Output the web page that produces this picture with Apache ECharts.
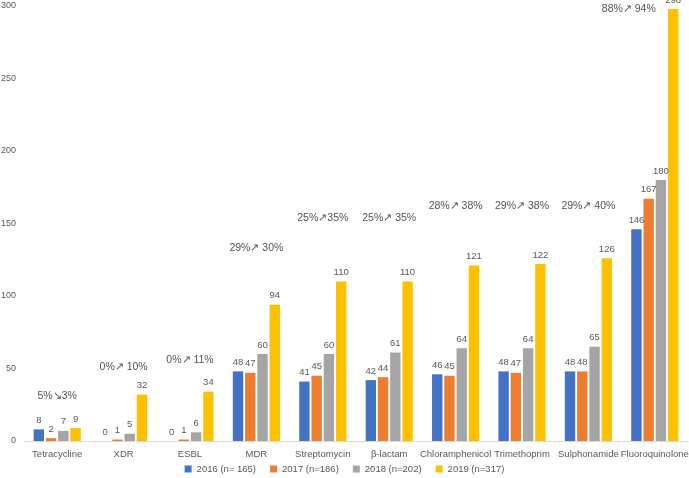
<!DOCTYPE html>
<html>
<head>
<meta charset="utf-8">
<script src="https://cdn.jsdelivr.net/npm/echarts@6/dist/echarts.min.js"></script>
<style>html,body{margin:0;padding:0;background:#fff}#c{width:689px;height:478px}</style>
</head>
<body>
<div id="c"></div>
<script>
var categories = ["Tetracycline","XDR","ESBL","MDR","Streptomycin","\u03b2-lactam","Chloramphenicol","Trimethoprim","Sulphonamide","Fluoroquinolone"];
var seriesNames = ["2016 (n= 165)","2017 (n=186)","2018 (n=202)","2019 (n=317)"];
var v2016 = [8,0,0,48,41,42,46,48,48,146];
var v2017 = [2,1,1,47,45,44,45,47,48,167];
var v2018 = [7,5,6,60,60,61,64,64,65,180];
var v2019 = [9,32,34,94,110,110,121,122,126,298];
var annotationText = ["5%\u21983%","0%\u2197 10%","0%\u2197 11%","29%\u2197 30%","25%\u219735%","25%\u2197 35%","28%\u2197 38%","29%\u2197 38%","29%\u2197 40%","88%\u2197 94%"];
var annotationLevel = [31,51,56,133,154,154,162,162,162,298];
var yTicks = {min:0,max:300,interval:50};

var colors = ["#4472C4","#ED7D31","#A5A5A5","#FFC000"];
var font = "Liberation Sans";
var values = [v2016,v2017,v2018,v2019];
var series = values.map(function(d,i){
  return {
    name: seriesNames[i], type:'bar', data:d,
    barGap:'18%', barCategoryGap:'29%',
    itemStyle:{color:colors[i]},
    label:{show:true,position:'top',distance:4,color:'#595959',fontSize:9.5,fontFamily:font}
  };
});
series.push({
  name:'annot', type:'scatter', symbolSize:0,
  data: annotationLevel.map(function(v,i){
    var item = {value:v, name:annotationText[i]};
    if (i === annotationLevel.length-1) item.label = {offset:[-26,0]};
    return item;
  }),
  label:{show:true,position:'inside',formatter:function(p){return annotationText[p.dataIndex];},
         color:'#262626',fontSize:10.5,fontWeight:'normal',fontFamily:font},
  silent:true
});
var chart = echarts.init(document.getElementById('c'),null,{renderer:'canvas'});
chart.setOption({
  animation:false,
  textStyle:{fontFamily:font},
  grid:{left:24,right:1,top:6,bottom:37,containLabel:false,outerBoundsMode:'none'},
  legend:{data:seriesNames,top:459,left:'center',itemWidth:7,itemHeight:7,itemGap:14,icon:'rect',
          textStyle:{color:'#595959',fontSize:9.5,fontFamily:font}},
  xAxis:{type:'category',data:categories,
         axisLine:{lineStyle:{color:'#D9D9D9'}},axisTick:{show:false},
         axisLabel:{color:'#595959',fontSize:9.5,margin:8,interval:0,fontFamily:font}},
  yAxis:{type:'value',min:yTicks.min,max:yTicks.max,interval:yTicks.interval,
         splitLine:{show:false},axisLine:{show:false},axisTick:{show:false},
         axisLabel:{color:'#595959',fontSize:9,margin:8,fontFamily:font}},
  series:series
});
</script>
</body>
</html>
